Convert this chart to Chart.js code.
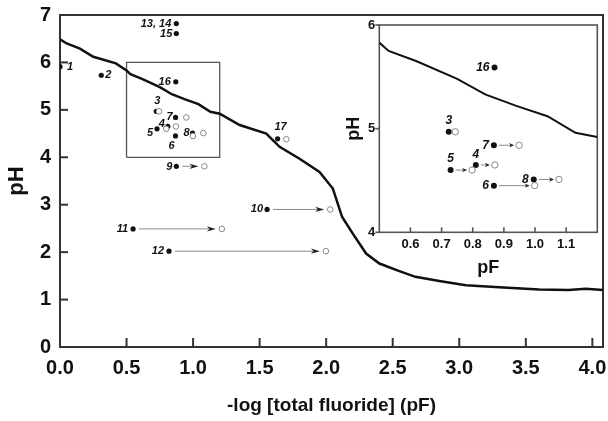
<!DOCTYPE html>
<html>
<head>
<meta charset="utf-8">
<script src="https://cdn.jsdelivr.net/npm/chart.js@4.4.1/dist/chart.umd.min.js"></script>
<style>
  html, body { margin: 0; padding: 0; background: #fff; }
  #wrap { position: relative; width: 608px; height: 421px; }
  #main { position: absolute; left: 0; top: 0; }
  #inset { position: absolute; left: 330px; top: 0; }
</style>
</head>
<body>
<div id="wrap">
  <canvas id="main" width="608" height="421"></canvas>
  <canvas id="inset" width="278" height="290"></canvas>
</div>
<script>
// pH boundary curve against pF
const curvePF = [0.00, 0.05, 0.15, 0.25, 0.42, 0.50, 0.53, 0.62, 0.75, 0.84, 0.94, 1.04, 1.13, 1.20,
                 1.35, 1.55, 1.65, 1.80, 1.95, 2.05, 2.12, 2.20, 2.30, 2.40, 2.55, 2.67, 2.85, 3.05,
                 3.30, 3.60, 3.82, 3.95, 4.08];
const curvePH = [6.49, 6.40, 6.29, 6.12, 5.98, 5.83, 5.75, 5.65, 5.48, 5.33, 5.22, 5.12, 4.96, 4.92,
                 4.68, 4.50, 4.22, 3.97, 3.69, 3.34, 2.74, 2.39, 1.97, 1.76, 1.60, 1.48, 1.39, 1.30,
                 1.26, 1.21, 1.20, 1.23, 1.20];

// samples: filled = measured, open = shifted
const sampleIds  = ['1', '2', '3', '4', '5', '6', '7', '8', '9', '10', '11', '12', '13, 14', '15', '16', '17'];
const samplePF   = [0.00, 0.31, 0.723, 0.81, 0.729, 0.868, 0.868, 0.996, 0.874, 1.556, 0.549, 0.819, 0.874, 0.874, 0.87, 1.635];
const samplePH   = [5.91, 5.73, 4.97, 4.65, 4.60, 4.45, 4.84, 4.51, 3.81, 2.90, 2.49, 2.02, 6.82, 6.61, 5.59, 4.39];
const shiftedPF  = [null, null, 0.744, 0.871, 0.798, 0.999, 0.949, 1.077, 1.085, 2.03, 1.216, 1.998, null, null, null, 1.70];
const shiftedPH  = [null, null, 4.97, 4.65, 4.60, 4.45, 4.84, 4.51, 3.81, 2.90, 2.49, 2.02, null, null, null, 4.38];

const mainXTicks = [0, 0.5, 1.0, 1.5, 2.0, 2.5, 3.0, 3.5, 4.0];
const mainYTicks = [0, 1, 2, 3, 4, 5, 6, 7];
const insetXTicks = [0.6, 0.7, 0.8, 0.9, 1.0, 1.1];
const insetYTicks = [4, 5, 6];

const mainX = [0, 4.08], mainY = [0, 7];
const zoomX = [0.5, 1.2], zoomY = [4, 6];

const FAM = "'Liberation Sans', Arial, sans-serif";

const pts = (xs, ys) => xs.map((x, i) => ({ x: x, y: ys[i] })).filter(p => p.x !== null);

const frameTicks = {
  id: 'frameTicks',
  beforeDatasetsDraw(chart, args, opts) {
    const { ctx, chartArea: a, scales } = chart;
    ctx.save();
    ctx.strokeStyle = opts.color;
    ctx.lineWidth = opts.width;
    ctx.strokeRect(a.left, a.top, a.right - a.left, a.bottom - a.top);
    scales.x.ticks.forEach(t => {
      const px = scales.x.getPixelForValue(t.value);
      ctx.beginPath(); ctx.moveTo(px, a.bottom); ctx.lineTo(px, a.bottom + opts.xTick); ctx.stroke();
    });
    scales.y.ticks.forEach(t => {
      const py = scales.y.getPixelForValue(t.value);
      ctx.beginPath(); ctx.moveTo(a.left, py); ctx.lineTo(a.left + opts.yTick, py); ctx.stroke();
    });
    ctx.restore();
  }
};

const arrows = {
  id: 'arrows',
  afterDatasetsDraw(chart, args, opts) {
    const { ctx, scales: { x, y } } = chart;
    ctx.save();
    opts.ids.forEach(id => {
      const i = sampleIds.indexOf(id);
      const x0 = x.getPixelForValue(samplePF[i]), y0 = y.getPixelForValue(samplePH[i]);
      const x1 = x.getPixelForValue(shiftedPF[i]), y1 = y.getPixelForValue(shiftedPH[i]);
      const len = Math.hypot(x1 - x0, y1 - y0);
      const tip = len - opts.gap;
      ctx.save();
      ctx.translate(x0, y0);
      ctx.rotate(Math.atan2(y1 - y0, x1 - x0));
      ctx.strokeStyle = '#8a8a8a';
      ctx.lineWidth = 1;
      ctx.beginPath(); ctx.moveTo(opts.gap, 0); ctx.lineTo(tip - opts.head * 0.5, 0); ctx.stroke();
      ctx.fillStyle = '#222';
      ctx.beginPath();
      ctx.moveTo(tip, 0);
      ctx.lineTo(tip - opts.head, -opts.half);
      ctx.lineTo(tip - opts.head * 0.7, 0);
      ctx.lineTo(tip - opts.head, opts.half);
      ctx.closePath(); ctx.fill();
      ctx.restore();
    });
    ctx.restore();
  }
};

const idLabels = {
  id: 'idLabels',
  afterDatasetsDraw(chart, args, opts) {
    const { ctx, scales: { x, y } } = chart;
    ctx.save();
    ctx.font = opts.font;
    ctx.fillStyle = '#111';
    ctx.textBaseline = 'middle';
    Object.entries(opts.place).forEach(([id, p]) => {
      const i = sampleIds.indexOf(id);
      ctx.textAlign = p[0];
      ctx.fillText(id, x.getPixelForValue(samplePF[i]) + p[1], y.getPixelForValue(samplePH[i]) + p[2]);
    });
    ctx.restore();
  }
};

function axis(range, ticks, fmt, font, pad, size, title) {
  return {
    type: 'linear',
    min: range[0], max: range[1],
    grid: { display: false, drawTicks: false },
    border: { display: false },
    afterBuildTicks: s => { s.ticks = ticks.map(v => ({ value: v })); },
    ticks: { color: '#111', font: font, padding: pad, callback: fmt, maxRotation: 0, autoSkip: false },
    title: title,
    afterFit: s => {
      if (s.isHorizontal()) s.height = size; else s.width = size;
      s.paddingTop = s.paddingBottom = s.paddingLeft = s.paddingRight = 0;
    }
  };
}

new Chart(document.getElementById('main'), {
  type: 'scatter',
  data: {
    datasets: [
      { type: 'line', data: pts(curvePF, curvePH), borderColor: '#111', borderWidth: 2.5,
        pointRadius: 0, tension: 0, fill: false },
      { type: 'line', data: [{ x: zoomX[0], y: zoomY[0] }, { x: zoomX[0], y: zoomY[1] }, { x: zoomX[1], y: zoomY[1] },
                             { x: zoomX[1], y: zoomY[0] }, { x: zoomX[0], y: zoomY[0] }],
        borderColor: '#555', borderWidth: 1.3, pointRadius: 0, tension: 0, fill: false },
      { data: pts(shiftedPF, shiftedPH), pointRadius: 2.8, pointBackgroundColor: '#fff',
        pointBorderColor: '#888', pointBorderWidth: 1 },
      { data: pts(samplePF, samplePH), pointRadius: 2.6, pointBackgroundColor: '#111',
        pointBorderColor: '#111', pointBorderWidth: 0 }
    ]
  },
  options: {
    responsive: false, animation: false, events: [],
    layout: { padding: { top: 15, right: 3, left: 0, bottom: 0 } },
    scales: {
      x: axis(mainX, mainXTicks, v => v.toFixed(1), { family: FAM, size: 20, weight: 'bold' }, 9, 74,
        { display: true, text: '-log [total fluoride] (pF)', color: '#111',
          font: { family: FAM, size: 19, weight: 'bold' }, padding: { top: 4, bottom: 4 } }),
      y: axis(mainY, mainYTicks, v => String(v), { family: FAM, size: 20, weight: 'bold' }, 9, 60,
        { display: true, text: 'pH', color: '#111',
          font: { family: FAM, size: 22, weight: 'bold' }, padding: { top: 4, bottom: 4 } })
    },
    plugins: {
      legend: { display: false }, tooltip: { enabled: false },
      frameTicks: { color: '#333', width: 2, xTick: -9, yTick: 8 },
      arrows: { ids: ['9', '10', '11', '12'], gap: 6, head: 9, half: 2.6 },
      idLabels: {
        font: 'italic bold 11px ' + FAM,
        place: {
          '1': ['left', 7, 0], '2': ['left', 4, 0], '3': ['center', 1, -10], '4': ['right', -3, -2],
          '5': ['right', -4, 4], '6': ['center', -4, 10], '7': ['right', -3, 0], '8': ['right', -3, 0],
          '9': ['right', -4, 1], '10': ['right', -4, 0], '11': ['right', -5, 0], '12': ['right', -5, 0],
          '13, 14': ['right', -5, 0], '15': ['right', -4, 0], '16': ['right', -5, 0], '17': ['center', 3, -12]
        }
      }
    }
  },
  plugins: [frameTicks, arrows, idLabels]
});

new Chart(document.getElementById('inset'), {
  type: 'scatter',
  data: {
    datasets: [
      { type: 'line', data: pts(curvePF, curvePH), borderColor: '#111', borderWidth: 2,
        pointRadius: 0, tension: 0, fill: false },
      { data: pts(shiftedPF, shiftedPH), pointRadius: 3.2, pointBackgroundColor: '#fff',
        pointBorderColor: '#888', pointBorderWidth: 1 },
      { data: pts(samplePF, samplePH), pointRadius: 3, pointBackgroundColor: '#111',
        pointBorderColor: '#111', pointBorderWidth: 0 }
    ]
  },
  options: {
    responsive: false, animation: false, events: [],
    layout: { padding: { top: 25, right: 10.7, left: 0.3, bottom: 0 } },
    scales: {
      x: axis(zoomX, insetXTicks, v => v.toFixed(1), { family: FAM, size: 13, weight: 'bold' }, 4, 57.7,
        { display: true, text: 'pF', color: '#111',
          font: { family: FAM, size: 18, weight: 'bold' }, padding: { top: 4, bottom: 11 } }),
      y: axis(zoomY, insetYTicks, v => String(v), { family: FAM, size: 13, weight: 'bold' }, 4, 49,
        { display: true, text: 'pH', color: '#111',
          font: { family: FAM, size: 18, weight: 'bold' }, padding: { top: 12.5, bottom: 4 } })
    },
    plugins: {
      legend: { display: false }, tooltip: { enabled: false },
      frameTicks: { color: '#555', width: 1.6, xTick: -5, yTick: -4 },
      arrows: { ids: ['4', '5', '6', '7', '8'], gap: 5, head: 5, half: 2.2 },
      idLabels: {
        font: 'italic bold 12px ' + FAM,
        place: {
          '16': ['right', -5, 0], '3': ['center', 0, -11], '7': ['right', -5, 0], '5': ['center', 0, -11],
          '4': ['center', 0, -10], '6': ['right', -5, 0], '8': ['right', -5, 0]
        }
      }
    }
  },
  plugins: [frameTicks, arrows, idLabels]
});
</script>
</body>
</html>
